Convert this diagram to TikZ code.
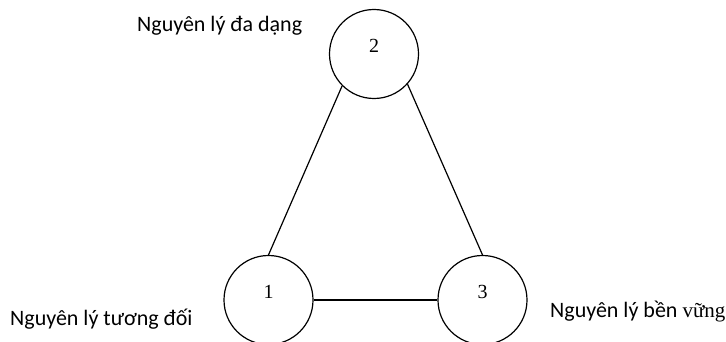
\documentclass[tikz,border=0pt]{standalone}
\usepackage{fontspec}
\setmainfont{Liberation Serif}
\newfontfamily\lblfont{Carlito}
\begin{document}
\begin{tikzpicture}[x=1pt,y=-1pt,
  circ/.style={circle,draw,line width=1.2pt,minimum size=89pt,inner sep=0pt},
  num/.style={font=\fontsize{20}{20}\selectfont},
  lbl/.style={anchor=base west,inner sep=0pt,font=\lblfont\fontsize{22}{22}\selectfont},
  conn/.style={line width=1.2pt}]
\useasboundingbox (0,0) rectangle (726,342);
\node[circ] (c2) at (374,54) {};
\node[circ] (c1) at (268.5,300) {};
\node[circ] (c3) at (482.5,300) {};
\node[num] (n2) at (374,46) {2};
\node[num] (n1) at (268.5,292) {1};
\node[num] (n3) at (482.5,292) {3};
\draw[conn] (c2.225) -- (c1.90);
\draw[conn] (c2.-42) -- (c3.90);
\draw[conn] (c1.east) -- (c3.west);
\node[lbl] (l2) at (137,32) {Nguyên lý đa dạng};
\node[lbl] (l1) at (10,325) {Nguyên lý tương đối};
\node[lbl] (l3) at (550,317) {Nguyên lý bền {\rmfamily\fontsize{21}{21}\selectfont vững}};
\end{tikzpicture}
\end{document}
